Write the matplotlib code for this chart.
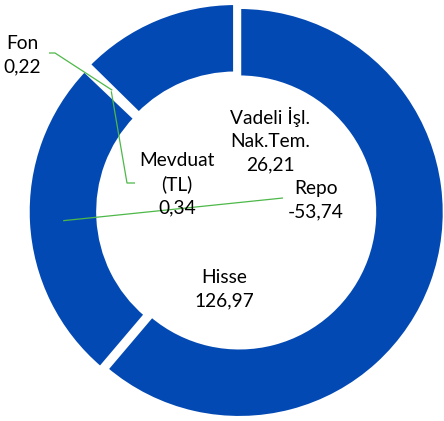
import numpy as np
import matplotlib
matplotlib.use("Agg")
import matplotlib.pyplot as plt

# ---- data ----
categories = ["Hisse", "Repo", "Mevduat\n(TL)", "Fon", "Vadeli İşl.\nNak.Tem."]
values = [126.97, -53.74, 0.34, 0.22, 26.21]

# ---- style / layout ----
W, H = 444, 421
DPI = 100
BLUE = "#0349B3"
GREEN = "#4DB848"
CX, CY, RPX = 236.3, 211.4, 205.5   # pie centre & radius in pixels

plt.rcParams["font.family"] = ["Lato", "DejaVu Sans"]

fig = plt.figure(figsize=(W / DPI, H / DPI), dpi=DPI)
ax = fig.add_axes([0, 0, 1, 1])

def px2d(px, py):
    return ((px - CX) / RPX, (CY - py) / RPX)

ring_w = 0.343
expl = 0.0151
wedges, _ = ax.pie(np.abs(values), startangle=90, counterclock=False,
                   radius=1.0, explode=[expl] * len(values),
                   colors=[BLUE] * len(values),
                   wedgeprops=dict(width=ring_w, edgecolor="white", linewidth=2.9))

ax.set_xlim(-CX / RPX, (W - CX) / RPX)
ax.set_ylim(-(H - CY) / RPX, CY / RPX)
ax.set_aspect("auto")
ax.axis("off")

def fmt(v):
    return f"{v:.2f}".replace(".", ",")

# label centres (pixels)
label_pos = {
    "Hisse": (224, 289),
    "Repo": (316, 200),
    "Mevduat\n(TL)": (177, 184),
    "Fon": (22, 55),
    "Vadeli İşl.\nNak.Tem.": (270, 140),
}
for name, v in zip(categories, values):
    x, y = px2d(*label_pos[name])
    ax.text(x, y, f"{name}\n{fmt(v)}", ha="center", va="center",
            fontsize=13.8, linespacing=1.42, color="black")

# leader lines anchored at the ring middle of the wedge
def anchor(w):
    th = np.deg2rad(0.5 * (w.theta1 + w.theta2))
    r = w.r - w.width / 2
    return (w.center[0] + r * np.cos(th), w.center[1] + r * np.sin(th))

leaders = {
    "Repo": [(283, 198)],
    "Mevduat\n(TL)": [(135, 183), (127, 183)],
    "Fon": [(49, 53), (55, 53)],
}
for i, name in enumerate(categories):
    if name in leaders:
        pts = [px2d(*p) for p in leaders[name]] + [anchor(wedges[i])]
        xs, ys = zip(*pts)
        ax.plot(xs, ys, color=GREEN, lw=0.9, solid_capstyle="butt")

fig.savefig("out.png", dpi=DPI)
